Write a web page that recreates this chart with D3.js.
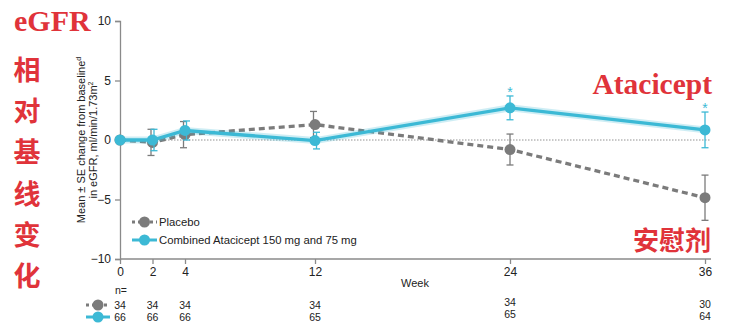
<!DOCTYPE html>
<html>
<head>
<meta charset="utf-8">
<script src="https://cdn.jsdelivr.net/npm/d3@7"></script>
<style>
  body { margin: 0; background: #fff; }
  svg { font-family: "Liberation Sans", Arial, sans-serif; }
</style>
</head>
<body>
<svg id="chart"></svg>
<script>
// Weeks and group results
const weeks = [0, 2, 4, 12, 24, 36];
const placeboMean = [0, -0.2, 0.45, 1.3, -0.8, -4.85];
const placeboSE = [0, 1.1, 1.1, 1.1, 1.3, 1.9];
const ataciceptMean = [0, 0, 0.8, -0.05, 2.7, 0.85];
const ataciceptSE = [0, 0.9, 0.8, 0.7, 1.0, 1.5];
const significant = [false, false, false, false, true, true];
const placeboN = [34, 34, 34, 34, 34, 30];
const ataciceptN = [66, 66, 66, 65, 65, 64];
const yTicks = [-10, -5, 0, 5, 10];

const width = 741, height = 333;
const margin = {top: 21, bottom: 74, left: 120, right: 36};

const gray = "#7b7b7b", teal = "#3cb9d5", red = "#e0333a";

const svg = d3.select("#chart")
    .attr("width", width)
    .attr("height", height);

const xScale = d3.scaleLinear()
    .domain([0, 36])
    .range([margin.left, width - margin.right]);

const yScale = d3.scaleLinear()
    .domain([-10, 10])
    .range([height - margin.bottom, margin.top]);

// Axes
const yAxis = svg.append("g")
    .attr("transform", `translate(${margin.left}, 0)`)
    .call(d3.axisLeft(yScale).tickValues(yTicks).tickSize(5).tickPadding(4));

const xAxis = svg.append("g")
    .attr("transform", `translate(0, ${height - margin.bottom})`)
    .call(d3.axisBottom(xScale).tickValues(weeks).tickSize(5).tickPadding(3));

xAxis.select(".domain").attr("d", `M${margin.left},0H${width - margin.right + 6}`);

[yAxis, xAxis].forEach(a => {
    a.selectAll(".domain, line").attr("stroke", "#8a8a8a").attr("stroke-width", 1.3);
    a.selectAll("text").attr("fill", "#222").style("font-size", "12px");
});

// Zero reference
svg.append("line")
    .attr("x1", margin.left).attr("x2", width - margin.right + 6)
    .attr("y1", yScale(0)).attr("y2", yScale(0))
    .attr("stroke", "#777").attr("stroke-width", 0.8)
    .attr("stroke-dasharray", "1.5,1.5");

// Axis titles
svg.append("text")
    .attr("transform", `translate(85, ${yScale(0)}) rotate(-90)`)
    .attr("text-anchor", "middle")
    .style("font-size", "11px").attr("fill", "#222")
    .html('Mean ± SE change from baseline<tspan dy="-4" font-size="7">d</tspan>');

svg.append("text")
    .attr("transform", `translate(97, ${yScale(0)}) rotate(-90)`)
    .attr("text-anchor", "middle")
    .style("font-size", "11px").attr("fill", "#222")
    .html('in eGFR, ml/min/1.73m<tspan dy="-4" font-size="7">2</tspan>');

svg.append("text")
    .attr("x", 415).attr("y", 287)
    .attr("text-anchor", "middle")
    .style("font-size", "11px").attr("fill", "#222")
    .text("Week");

// Series
const series = [
    {mean: placeboMean, se: placeboSE, color: gray, dash: "6,4"},
    {mean: ataciceptMean, se: ataciceptSE, color: teal, dash: null}
];

const line = d3.line()
    .x((d, i) => xScale(weeks[i]))
    .y(d => yScale(d));

series.forEach((s, k) => {
    const g = svg.append("g");
    const off = k === 0 ? -1.5 : 1.5;

    // Error bars
    weeks.forEach((w, i) => {
        if (s.se[i] === 0) return;
        const x = xScale(w) + (i > 0 && i < 4 ? off : 0);
        const y1 = yScale(s.mean[i] + s.se[i]), y2 = yScale(s.mean[i] - s.se[i]);
        g.append("line").attr("x1", x).attr("x2", x).attr("y1", y1).attr("y2", y2)
            .attr("stroke", s.color).attr("stroke-width", 1.3);
        [y1, y2].forEach(y => g.append("line")
            .attr("x1", x - 3.5).attr("x2", x + 3.5).attr("y1", y).attr("y2", y)
            .attr("stroke", s.color).attr("stroke-width", 1.3));
    });

    if (k === 1) {
        g.append("path").datum(s.mean).attr("d", line)
            .attr("fill", "none").attr("stroke", teal).attr("stroke-opacity", 0.25)
            .attr("stroke-width", 7);
    }
    g.append("path").datum(s.mean).attr("d", line)
        .attr("fill", "none").attr("stroke", s.color)
        .attr("stroke-width", 3.3)
        .attr("stroke-dasharray", s.dash);

    g.selectAll("circle").data(s.mean).enter().append("circle")
        .attr("cx", (d, i) => xScale(weeks[i]))
        .attr("cy", d => yScale(d))
        .attr("r", 5.5)
        .attr("fill", s.color);
});

// Significance stars
svg.selectAll(".star").data(weeks.filter((w, i) => significant[i]))
    .enter().append("text")
    .attr("x", d => xScale(d))
    .attr("y", d => {
        const i = weeks.indexOf(d);
        return yScale(ataciceptMean[i] + ataciceptSE[i]) + 1;
    })
    .attr("text-anchor", "middle")
    .style("font-size", "14px").attr("fill", teal)
    .text("*");

// Legend
const legendItems = [
    {label: "Placebo", color: gray, dash: "3,3", y: 222},
    {label: "Combined Atacicept 150 mg and 75 mg", color: teal, dash: null, y: 240}
];

function drawKey(g, item, x0, x1, y) {
    g.append("line").attr("x1", x0).attr("x2", x1).attr("y1", y).attr("y2", y)
        .attr("stroke", item.color).attr("stroke-width", 3)
        .attr("stroke-dasharray", item.dash);
    g.append("circle").attr("cx", (x0 + x1) / 2).attr("cy", y).attr("r", 5.5)
        .attr("fill", item.color);
}

legendItems.forEach(item => {
    drawKey(svg, item, 132, 157, item.y);
    svg.append("text").attr("x", 159).attr("y", item.y + 4)
        .style("font-size", "11.3px").attr("fill", "#222").text(item.label);
});

// Number of patients table
svg.append("text").attr("x", 115).attr("y", 294)
    .style("font-size", "10.5px").attr("fill", "#222").text("n=");

[placeboN, ataciceptN].forEach((row, k) => {
    const y = 305 + k * 12;
    drawKey(svg, legendItems[k], 86, 110, y);
    svg.selectAll(null).data(row).enter().append("text")
        .attr("x", (d, i) => xScale(weeks[i]))
        .attr("y", (d, i) => y + 4 + (i === 4 ? -3 : 0) + (i === 5 ? -1 : 0))
        .attr("text-anchor", "middle")
        .style("font-size", "10.5px").attr("fill", "#222")
        .text(d => d);
});

// Red annotations
const serif = '"Liberation Serif", "DejaVu Serif", serif';
svg.append("text").attr("x", 14).attr("y", 31)
    .style("font-family", serif).style("font-weight", "bold")
    .style("font-size", "30px").attr("fill", red).text("eGFR");

const cn = ["相", "对", "基", "线", "变", "化"];
svg.selectAll(".cn").data(cn).enter().append("text")
    .attr("x", 27).attr("y", (d, i) => 80 + i * 41.2)
    .attr("text-anchor", "middle")
    .style("font-family", '"Noto Sans CJK SC"').style("font-weight", "bold")
    .style("font-size", "27px").attr("fill", red).text(d => d);

svg.append("text").attr("x", 712).attr("y", 93.5).attr("text-anchor", "end")
    .style("font-family", serif).style("font-weight", "bold")
    .style("font-size", "29.5px").attr("fill", red).text("Atacicept");

svg.append("text").attr("x", 711).attr("y", 250).attr("text-anchor", "end")
    .style("font-family", '"Noto Sans CJK SC"').style("font-weight", "bold")
    .style("font-size", "26px").attr("fill", red).text("安慰剂");
</script>
</body>
</html>
